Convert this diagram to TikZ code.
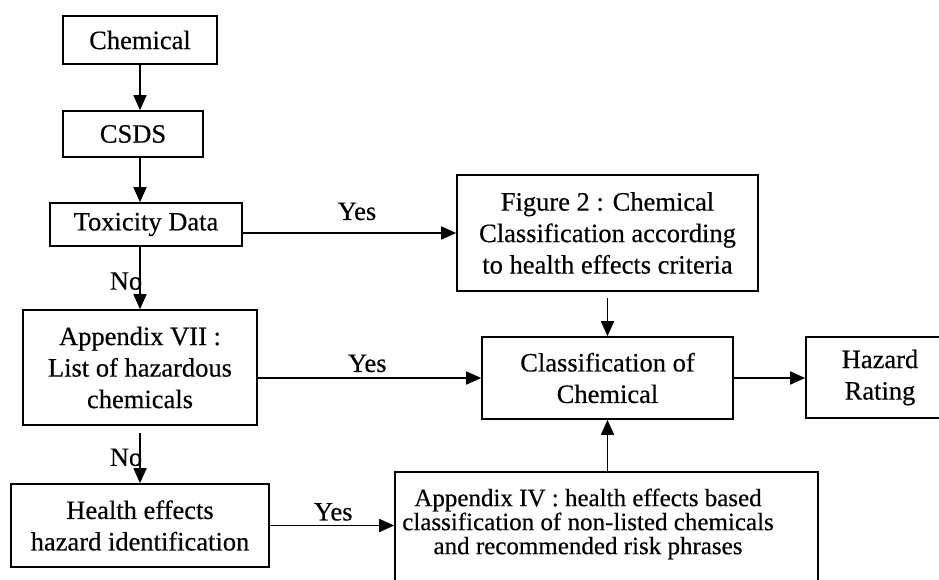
\documentclass[tikz,border=0pt]{standalone}
\usepackage{fontspec}
\setmainfont{Liberation Serif}[FakeBold=0.4]
\usetikzlibrary{arrows.meta}
\tikzset{
  flowbox/.style={draw, line width=1.6pt, inner sep=0pt, align=center,
    font=\fontsize{26.5}{31.5}\selectfont},
  conn/.style={line width=1.6pt, -{Triangle[length=15pt,width=13pt]}},
  lbl/.style={font=\fontsize{26.5}{30}\selectfont, inner sep=0pt},
}
\begin{document}
\begin{tikzpicture}[x=1pt,y=-1pt]
\useasboundingbox[fill=white] (0,0) rectangle (939,579);
\clip (0,0) rectangle (939,579);
\node[flowbox, minimum width=154pt, minimum height=48pt] (chem) at (140,40) {Chemical};
\node[flowbox, minimum width=140pt, minimum height=46pt] (csds) at (133,134) {CSDS};
\node[flowbox, minimum width=192pt, minimum height=43pt] (tox) at (146,224.5) {Toxicity Data};
\node[flowbox, minimum width=234pt, minimum height=115pt] (app7) at (140,367.5) {Appendix VII :\\List of hazardous\\chemicals};
\node[flowbox, minimum width=258pt, minimum height=83pt] (health) at (140,525.5) {Health effects\\hazard identification};
\node[flowbox, minimum width=301pt, minimum height=116pt] (fig2) at (607.5,233) {Figure 2 : Chemical\\Classification according\\to health effects criteria};
\node[flowbox, minimum width=251pt, minimum height=82pt] (class) at (607.5,378) {Classification of\\Chemical};
\node[flowbox, minimum width=148pt, minimum height=81pt] (hazard) at (880,377.5) {Hazard\\Rating};
\node[draw, line width=1.6pt, minimum width=423pt, minimum height=130pt, inner sep=0pt] (app4) at (606.5,537) {};
\node[align=center, inner sep=0pt, font=\fontsize{25}{24}\selectfont] (app4text) at (588,524) {Appendix IV : health effects based\\classification of non-listed chemicals\\and recommended risk phrases};

\draw[conn] (chem.south) -- (chem.south |- csds.north);
\draw[conn] (chem.south |- csds.south) -- (chem.south |- tox.north);
\draw[conn] (app7.north |- tox.south) -- node[lbl, pos=0.55, anchor=east, xshift=3pt] {No} (app7.north);
\draw[conn, shorten <=7pt] (app7.south) -- node[lbl, pos=0.55, anchor=east, xshift=3pt] {No} (app7.south |- health.north);
\draw[conn] (fig2.west -| tox.east) -- node[lbl, pos=0.535, above, yshift=12pt] {Yes} (fig2.west);
\draw[conn] (app7.east |- class.west) -- node[lbl, pos=0.49, above, yshift=5pt] {Yes} (class.west);
\draw[conn] (health.east) -- node[lbl, pos=0.51, above, yshift=4pt] {Yes} (health.east -| app4.west);
\draw[conn, shorten <=6pt] (fig2.south) -- (fig2.south |- class.north);
\draw[conn] (class.south |- app4.north) -- (class.south);
\draw[conn] (class.east) -- (class.east -| hazard.west);
\end{tikzpicture}
\end{document}
